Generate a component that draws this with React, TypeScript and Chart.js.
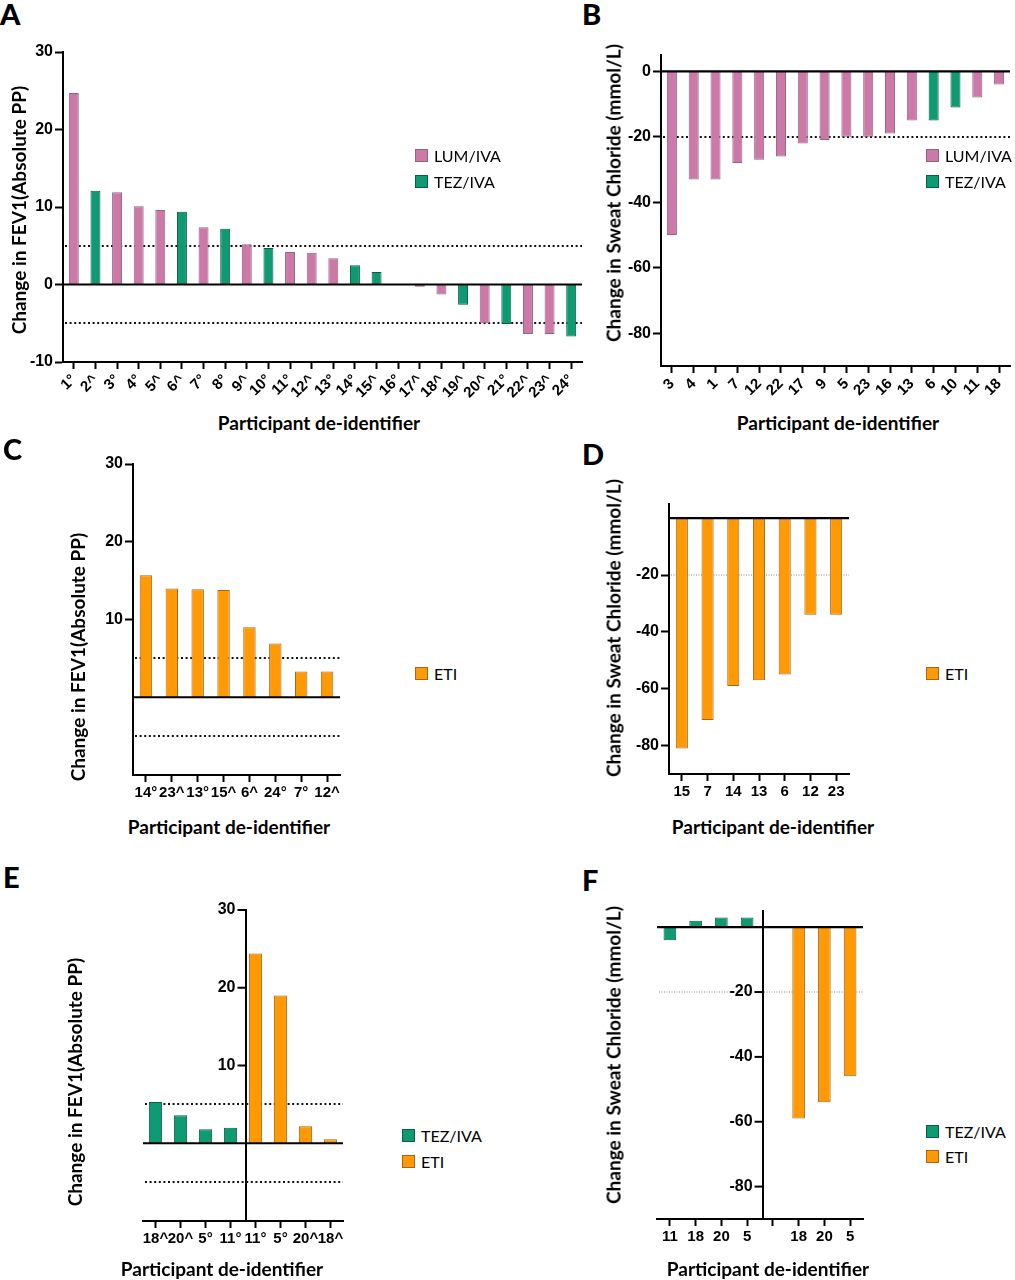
import { useEffect, useRef } from 'react';
import { Chart, registerables } from 'chart.js';

Chart.register(...registerables);

// bar colours
const LUM = { name: 'LUM/IVA', fill: '#cc79a7', edge: '#8e6484' };
const TEZ = { name: 'TEZ/IVA', fill: '#0e9a72', edge: '#0a5e46' };
const ETI = { name: 'ETI', fill: '#ff9a05', edge: '#a8651a' };

// A: FEV1, LUM/IVA + TEZ/IVA
const A_LABELS = ['1°', '2^', '3°', '4°', '5^', '6^', '7°', '8°', '9^', '10°', '11°', '12^', '13°', '14°', '15^', '16°', '17^', '18^', '19^', '20^', '21°', '22^', '23^', '24°'];
const A_LUM = [24.7, null, 11.9, 10.1, 9.6, null, 7.4, null, 5.2, null, 4.2, 4.1, 3.4, null, null, null, -0.3, -1.3, null, -5.0, null, -6.4, -6.4, null];
const A_TEZ = [null, 12.1, null, null, null, 9.4, null, 7.2, null, 4.7, null, null, null, 2.5, 1.6, null, null, null, -2.6, null, -5.1, null, null, -6.7];
const A_TICKS = [30, 20, 10, 0, -10];

// B: sweat chloride, LUM/IVA + TEZ/IVA
const B_LABELS = ['3', '4', '1', '7', '12', '22', '17', '9', '5', '23', '16', '13', '6', '10', '11', '18'];
const B_LUM = [-50, -33, -33, -28, -27, -26, -22, -21, -20, -20, -19, -15, null, null, -8, -4];
const B_TEZ = [null, null, null, null, null, null, null, null, null, null, null, null, -15, -11, null, null];
const B_TICKS = [0, -20, -40, -60, -80];

// C: FEV1, ETI
const C_LABELS = ['14°', '23^', '13°', '15^', '6^', '24°', '7°', '12^'];
const C_ETI = [15.7, 14.0, 13.9, 13.8, 9.0, 6.9, 3.3, 3.3];
const C_TICKS = [30, 20, 10];

// D: sweat chloride, ETI
const D_LABELS = ['15', '7', '14', '13', '6', '12', '23'];
const D_ETI = [-81, -71, -59, -57, -55, -34, -34];
const D_TICKS = [-20, -40, -60, -80];

// E: FEV1, TEZ/IVA then ETI
const E_LABELS = ['18^', '20^', '5°', '11°', '11°', '5°', '20^', '18^'];
const E_TEZ = [5.3, 3.6, 1.8, 2.0, null, null, null, null];
const E_ETI = [null, null, null, null, 24.4, 19.0, 2.2, 0.5];
const E_TICKS = [30, 20, 10];

// F: sweat chloride, TEZ/IVA then ETI
const F_LABELS = ['11', '18', '20', '5', '', '18', '20', '5'];
const F_TEZ = [-4, 2, 3, 3, null, null, null, null];
const F_ETI = [null, null, null, null, null, -59, -54, -46];
const F_TICKS = [-20, -40, -60, -80];

const FEV_LINES = [5, -5];
const SWEAT_LINES = [-20];

const TITLE_FONT = 'Lato, "Open Sans", sans-serif';
const TICK_FONT = '"Liberation Sans", Arial, sans-serif';
const Y_TICK_SIZE = 16;

interface Series {
  name: string;
  fill: string;
  edge: string;
  values: (number | null)[];
}

interface PanelProps {
  canvas: [number, number, number, number]; // left, top, width, height
  area: [number, number, number, number]; // left, top, right, bottom (page px)
  labels: string[];
  series: Series[];
  yMin: number;
  yMax: number;
  yTicks: number[];
  lines: number[];
  greyLines?: boolean;
  barPct: number;
  rotate?: boolean;
  yAt?: number; // y axis crossing the category axis (E, F)
  xFont: number;
}

function Panel(p: PanelProps) {
  const canvasRef = useRef<HTMLCanvasElement>(null);

  useEffect(() => {
    if (!canvasRef.current) return;
    const [cl, ct, cw, ch] = p.canvas;
    const [al, at, ar, ab] = p.area;
    const floating = p.yAt !== undefined;

    const refLines = {
      id: 'refLines',
      beforeDatasetsDraw(chart: Chart) {
        const { ctx, chartArea } = chart;
        const y = chart.scales.y;
        ctx.save();
        ctx.strokeStyle = p.greyLines ? '#8a8a8a' : '#111';
        ctx.lineWidth = p.greyLines ? 1 : 2;
        ctx.setLineDash(p.greyLines ? [1, 1.5] : [2, 2.6]);
        for (const v of p.lines) {
          const py = Math.round(y.getPixelForValue(v));
          ctx.beginPath();
          ctx.moveTo(chartArea.left + 2, py);
          ctx.lineTo(chartArea.right, py);
          ctx.stroke();
        }
        ctx.restore();
      },
      afterDatasetsDraw(chart: Chart) {
        const { ctx, chartArea } = chart;
        const y = chart.scales.y;
        ctx.save();
        ctx.strokeStyle = '#000';
        ctx.lineWidth = 2.2;
        const py = y.getPixelForValue(0);
        ctx.beginPath();
        ctx.moveTo(chartArea.left, py);
        ctx.lineTo(chartArea.right, py);
        ctx.stroke();

        // ticks of the axis that sits between the two groups
        if (floating) {
          const ax = chart.scales.x.getPixelForValue(p.yAt as number);
          ctx.lineWidth = 2;
          ctx.fillStyle = '#000';
          ctx.font = `bold ${Y_TICK_SIZE}px ${TICK_FONT}`;
          ctx.textAlign = 'right';
          ctx.textBaseline = 'middle';
          for (const v of p.yTicks) {
            const ty = y.getPixelForValue(v);
            ctx.beginPath();
            ctx.moveTo(ax - 8, ty);
            ctx.lineTo(ax, ty);
            ctx.stroke();
            ctx.fillText(String(v), ax - 10, ty);
          }
        }
        ctx.restore();
      },
    };

    const chart = new Chart(canvasRef.current, {
      type: 'bar',
      data: {
        labels: p.labels,
        datasets: p.series.map((s) => ({
          label: s.name,
          data: s.values,
          backgroundColor: s.fill,
          borderColor: s.edge,
          borderWidth: 1,
          grouped: false,
          barPercentage: p.barPct,
          categoryPercentage: 1,
        })),
      },
      options: {
        responsive: false,
        animation: false,
        events: [],
        layout: {
          padding: {
            left: floating ? al - cl : 0,
            top: at - ct,
            right: cl + cw - ar,
            bottom: 0,
          },
        },
        plugins: { legend: { display: false }, tooltip: { enabled: false } },
        scales: {
          x: {
            offset: true,
            grid: {
              offset: false,
              drawOnChartArea: false,
              drawTicks: true,
              tickLength: 7,
              tickWidth: 2,
              tickColor: '#000',
            },
            border: { display: true, color: '#000', width: 2 },
            ticks: {
              autoSkip: false,
              maxRotation: p.rotate ? 45 : 0,
              minRotation: p.rotate ? 45 : 0,
              color: '#000',
              padding: 2,
              font: { family: TICK_FONT, size: p.xFont, weight: 'bold' },
            },
            afterFit: (s: any) => {
              s.height = ct + ch - ab;
            },
          },
          y: {
            min: p.yMin,
            max: p.yMax,
            position: floating ? { x: p.yAt } : 'left',
            grid: {
              drawOnChartArea: false,
              drawTicks: !floating,
              tickLength: 8,
              tickWidth: 2,
              tickColor: '#000',
            },
            border: { display: true, color: '#000', width: 2 },
            ticks: {
              display: !floating,
              color: '#000',
              padding: 2,
              font: { family: TICK_FONT, size: Y_TICK_SIZE, weight: 'bold' },
              callback: (v: any) => String(v),
            },
            afterBuildTicks: (s: any) => {
              s.ticks = p.yTicks.map((v) => ({ value: v }));
            },
            afterFit: (s: any) => {
              if (!floating) s.width = al - cl;
            },
          },
        },
      },
      plugins: [refLines],
    });

    return () => chart.destroy();
  }, []);

  const [cl, ct, cw, ch] = p.canvas;
  return (
    <canvas
      ref={canvasRef}
      width={cw}
      height={ch}
      style={{ position: 'absolute', left: cl, top: ct, width: cw, height: ch }}
    />
  );
}

function Legend({ x, y, items }: { x: number; y: number[]; items: { name: string; fill: string; edge: string }[] }) {
  return (
    <>
      {items.map((it, i) => (
        <div
          key={it.name}
          style={{ position: 'absolute', left: x, top: y[i] - 10, height: 20, display: 'flex', alignItems: 'center' }}
        >
          <div style={{ width: 11, height: 11, background: it.fill, border: `1px solid ${it.edge}` }} />
          <span style={{ marginLeft: 6, fontFamily: TITLE_FONT, fontSize: 16, color: '#000', whiteSpace: 'nowrap' }}>
            {it.name}
          </span>
        </div>
      ))}
    </>
  );
}

function VTitle({ x, y, text }: { x: number; y: number; text: string }) {
  return (
    <div
      style={{
        position: 'absolute',
        left: x,
        top: y,
        transform: 'translate(-50%, -50%) rotate(-90deg)',
        fontFamily: TITLE_FONT,
        fontWeight: 'bold',
        fontSize: 19,
        whiteSpace: 'nowrap',
        color: '#000',
      }}
    >
      {text}
    </div>
  );
}

function HTitle({ x, y, text }: { x: number; y: number; text: string }) {
  return (
    <div
      style={{
        position: 'absolute',
        left: x,
        top: y,
        transform: 'translate(-50%, -50%)',
        fontFamily: TITLE_FONT,
        fontWeight: 'bold',
        fontSize: 19,
        whiteSpace: 'nowrap',
        color: '#000',
      }}
    >
      {text}
    </div>
  );
}

function Letter({ x, y, text }: { x: number; y: number; text: string }) {
  return (
    <div
      style={{
        position: 'absolute',
        left: x,
        top: y,
        fontFamily: TITLE_FONT,
        fontWeight: 900,
        fontSize: 29,
        lineHeight: '29px',
        color: '#000',
      }}
    >
      {text}
    </div>
  );
}

const FEV_TITLE = 'Change in FEV1(Absolute PP)';
const SWEAT_TITLE = 'Change in Sweat Chloride (mmol/L)';
const X_TITLE = 'Participant de-identifier';

export default function App() {
  useEffect(() => {
    document.body.style.margin = '0';
  }, []);

  return (
    <div style={{ position: 'relative', width: 1015, height: 1280, background: '#fff', overflow: 'hidden' }}>
      {/* A */}
      <Letter x={0} y={-1} text="A" />
      <Panel
        canvas={[0, 40, 592, 368]}
        area={[63, 52, 582, 362]}
        labels={A_LABELS}
        series={[{ ...LUM, values: A_LUM }, { ...TEZ, values: A_TEZ }]}
        yMin={-10}
        yMax={30}
        yTicks={A_TICKS}
        lines={FEV_LINES}
        barPct={0.46}
        rotate
        xFont={15}
      />
      <VTitle x={18} y={210} text={FEV_TITLE} />
      <HTitle x={319} y={422} text={X_TITLE} />
      <Legend x={415} y={[155, 181]} items={[LUM, TEZ]} />

      {/* B */}
      <Letter x={582} y={-1} text="B" />
      <Panel
        canvas={[598, 40, 417, 368]}
        area={[661, 55, 1010, 366]}
        labels={B_LABELS}
        series={[{ ...LUM, values: B_LUM }, { ...TEZ, values: B_TEZ }]}
        yMin={-90}
        yMax={5}
        yTicks={B_TICKS}
        lines={SWEAT_LINES}
        barPct={0.46}
        rotate
        xFont={15}
      />
      <VTitle x={613} y={193} text={SWEAT_TITLE} />
      <HTitle x={838} y={422} text={X_TITLE} />
      <Legend x={926} y={[155, 181]} items={[LUM, TEZ]} />

      {/* C */}
      <Letter x={3} y={434} text="C" />
      <Panel
        canvas={[80, 452, 290, 358]}
        area={[133, 464, 340, 775]}
        labels={C_LABELS}
        series={[{ ...ETI, values: C_ETI }]}
        yMin={-10}
        yMax={30}
        yTicks={C_TICKS}
        lines={FEV_LINES}
        barPct={0.48}
        xFont={15}
      />
      <VTitle x={77} y={657} text={FEV_TITLE} />
      <HTitle x={229} y={826} text={X_TITLE} />
      <Legend x={415} y={[673]} items={[ETI]} />

      {/* D */}
      <Letter x={582} y={439} text="D" />
      <Panel
        canvas={[620, 492, 260, 318]}
        area={[669, 504, 849, 774]}
        labels={D_LABELS}
        series={[{ ...ETI, values: D_ETI }]}
        yMin={-90}
        yMax={5}
        yTicks={D_TICKS}
        lines={SWEAT_LINES}
        greyLines
        barPct={0.47}
        xFont={15}
      />
      <VTitle x={613} y={628} text={SWEAT_TITLE} />
      <HTitle x={773} y={826} text={X_TITLE} />
      <Legend x={926} y={[673]} items={[ETI]} />

      {/* E */}
      <Letter x={3} y={862} text="E" />
      <Panel
        canvas={[100, 898, 275, 362]}
        area={[143, 910, 343, 1221]}
        labels={E_LABELS}
        series={[{ ...TEZ, values: E_TEZ }, { ...ETI, values: E_ETI }]}
        yMin={-10}
        yMax={30}
        yTicks={E_TICKS}
        lines={FEV_LINES}
        barPct={0.53}
        yAt={3.6}
        xFont={15}
      />
      <VTitle x={74} y={1082} text={FEV_TITLE} />
      <HTitle x={222} y={1268} text={X_TITLE} />
      <Legend x={402} y={[1135, 1161]} items={[TEZ, ETI]} />

      {/* F */}
      <Letter x={582} y={865} text="F" />
      <Panel
        canvas={[615, 898, 280, 362]}
        area={[657, 911, 863, 1219]}
        labels={F_LABELS}
        series={[{ ...TEZ, values: F_TEZ }, { ...ETI, values: F_ETI }]}
        yMin={-90}
        yMax={5}
        yTicks={F_TICKS}
        lines={SWEAT_LINES}
        greyLines
        barPct={0.49}
        yAt={3.6}
        xFont={15}
      />
      <VTitle x={613} y={1055} text={SWEAT_TITLE} />
      <HTitle x={768} y={1268} text={X_TITLE} />
      <Legend x={926} y={[1131, 1156]} items={[TEZ, ETI]} />
    </div>
  );
}
